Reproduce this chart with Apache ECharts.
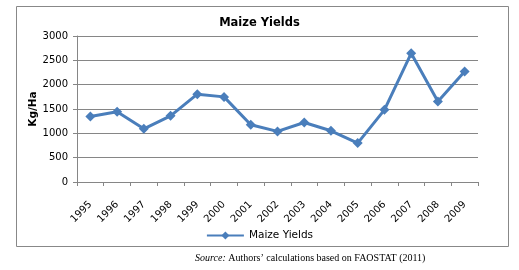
<!DOCTYPE html>
<html><head><meta charset="utf-8">
<script src="https://cdn.jsdelivr.net/npm/echarts@6/dist/echarts.min.js"></script>
<style>html,body{margin:0;padding:0;background:#fff}#c{width:519px;height:270px}</style>
</head><body><div id="c"></div>
<script>
var years = ['1995','1996','1997','1998','1999','2000','2001','2002','2003','2004','2005','2006','2007','2008','2009'];
var maizeYields = [1345,1442,1093,1360,1804,1749,1175,1040,1222,1052,800,1483,2645,1653,2268];
var seriesName = 'Maize Yields';
var chartTitle = 'Maize Yields';
var yAxisName = 'Kg/Ha';
var sourceItalic = 'Source:';
var sourceRest = ' Authors\u2019 calculations based on FAOSTAT (2011)';

var chart = echarts.init(document.getElementById('c'), null, {renderer:'canvas'});
var font = 'DejaVu Sans';
chart.setOption({
  animation:false,
  backgroundColor:'#fff',
  title:{text:chartTitle,left:'center',top:12,textStyle:{fontFamily:font,fontSize:11.5,fontWeight:'bold',color:'#000'}},
  grid:{left:77,right:41,top:36,bottom:88,containLabel:false},
  legend:{bottom:24,left:'center',itemWidth:37,itemHeight:10,itemGap:4,
    textStyle:{fontFamily:font,fontSize:10.5,color:'#000'},data:[seriesName]},
  xAxis:{type:'category',data:years,boundaryGap:true,
    axisLine:{lineStyle:{color:'#868686',width:1}},
    axisTick:{show:true,length:4,alignWithLabel:false,lineStyle:{color:'#868686'}},
    axisLabel:{rotate:45,fontFamily:font,fontSize:10,color:'#000',margin:21,interval:0}},
  yAxis:{type:'value',min:0,max:3000,interval:500,
    name:yAxisName,nameLocation:'middle',nameGap:38,nameRotate:90,nameMoveOverlap:false,
    nameTextStyle:{fontFamily:font,fontSize:10.5,fontWeight:'bold',color:'#000'},
    axisLine:{show:true,lineStyle:{color:'#868686'}},
    axisTick:{show:true,length:4,lineStyle:{color:'#868686'}},
    splitLine:{lineStyle:{color:'#868686',width:1}},
    axisLabel:{fontFamily:font,fontSize:10,color:'#000',margin:9,formatter:function(v){return String(v);}}},
  series:[{type:'line',name:seriesName,data:maizeYields,
    lineStyle:{color:'#4a7ebb',width:3},itemStyle:{color:'#4a7ebb'},
    symbol:'diamond',symbolSize:10,showSymbol:true}],
  graphic:[
    {type:'rect',shape:{x:16.5,y:6.5,width:492,height:240},style:{fill:null,stroke:'#888',lineWidth:1},silent:true},
    {type:'text',left:195,top:253,style:{
      rich:{i:{fontFamily:'Liberation Serif',fontStyle:'italic',fontSize:10,fill:'#000'},
            n:{fontFamily:'Liberation Serif',fontSize:10,fill:'#000'}},
      text:'{i|'+sourceItalic+'}{n|'+sourceRest+'}'}}
  ]
});
</script></body></html>
